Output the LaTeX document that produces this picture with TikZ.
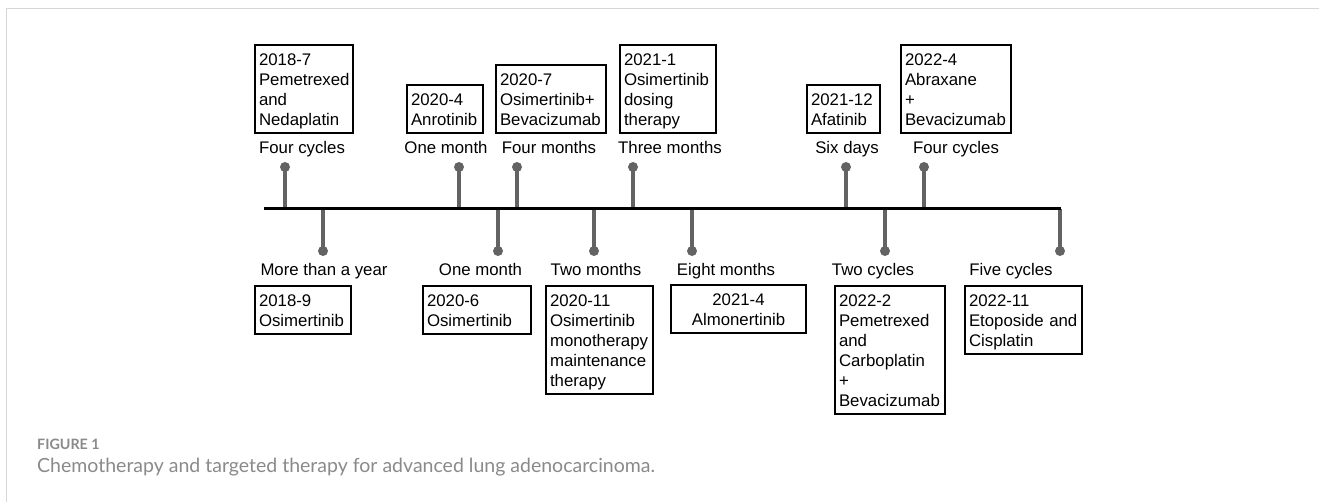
\documentclass[tikz,border=0pt]{standalone}
\usepackage{fontspec}
\setmainfont{Liberation Sans}
\newfontfamily\capfont{Lato}
\newcommand\fs{\fontsize{16.8pt}{20pt}\selectfont}
\newcommand\tp{\rule{0pt}{16.5pt}}
\newcommand\bt{\rule[-3.5pt]{0pt}{3.5pt}}
\definecolor{tickgray}{HTML}{636363}
\definecolor{framegray}{HTML}{D6D6D6}
\definecolor{capgray}{HTML}{8A8A8A}
\tikzset{
  tickline/.style={draw=tickgray, line width=3.5pt},
  dotnode/.style={circle, fill=tickgray, inner sep=0pt, minimum size=10pt},
  lbl/.style={font=\fs, anchor=base, inner sep=0pt},
  evbox/.style={draw, line width=2pt, inner xsep=4pt, inner ysep=4pt, font=\fs, align=left},
  upbox/.style={evbox, anchor=south west},
  lowbox/.style={evbox, anchor=north west},
}
\begin{document}
\begin{tikzpicture}[x=1pt,y=-1pt]
\useasboundingbox (0,0) rectangle (1319,502);
% frame
\coordinate (fA) at (6,502);
\coordinate (fB) at (6,9);
\coordinate (fC) at (1319,9);
\draw[framegray, line width=1pt] (fA) -- (fB) -- (fC);

% axis coordinates
\coordinate (axL) at (264,209);
\coordinate (axR) at (1061,209);

% upper events
\coordinate (u1) at (285,209); \node[dotnode] (du1) at (285,167) {};
\coordinate (u2) at (459,209); \node[dotnode] (du2) at (459,167) {};
\coordinate (u3) at (517,209); \node[dotnode] (du3) at (517,167) {};
\coordinate (u4) at (633,209); \node[dotnode] (du4) at (633,167) {};
\coordinate (u5) at (846,209); \node[dotnode] (du5) at (846,167) {};
\coordinate (u6) at (924,209); \node[dotnode] (du6) at (924,167) {};
% lower events
\coordinate (w1) at (323,209); \node[dotnode] (dw1) at (323,251) {};
\coordinate (w2) at (498,209); \node[dotnode] (dw2) at (498,251) {};
\coordinate (w3) at (594,209); \node[dotnode] (dw3) at (594,251) {};
\coordinate (w4) at (692,209); \node[dotnode] (dw4) at (692,251) {};
\coordinate (w5) at (885,209); \node[dotnode] (dw5) at (885,251) {};
\coordinate (w6) at (1060,209); \node[dotnode] (dw6) at (1060,251) {};

\foreach \i in {1,...,6} {
  \draw[tickline] (u\i) -- (du\i.center);
  \draw[tickline] (w\i) -- (dw\i.center);
}
\draw[line width=3pt] (axL) -- (axR);

% upper labels
\node[lbl] (lu1) at (302,154) {Four cycles};
\node[lbl] (lu2) at (446,154) {One month};
\node[lbl] (lu3) at (549,154) {Four months};
\node[lbl] (lu4) at (670,154) {Three months};
\node[lbl] (lu5) at (847,154) {Six days};
\node[lbl] (lu6) at (956,154) {Four cycles};

% lower labels
\node[lbl] (lw1) at (324,276) {More than a year};
\node[lbl] (lw2) at (480.5,276) {One month};
\node[lbl] (lw3) at (596,276) {Two months};
\node[lbl] (lw4) at (726,276) {Eight months};
\node[lbl] (lw5) at (873,276) {Two cycles};
\node[lbl] (lw6) at (1011,276) {Five cycles};

% upper boxes
\node[upbox, text width=90pt] (bu1) at (254,134) {\tp 2018-7\\Pemetrexed\\and\\Nedaplatin\bt};
\node[upbox, text width=68pt] (bu2) at (406,134) {\tp 2020-4\\Anrotinib\bt};
\node[upbox, text width=102pt] (bu3) at (495,134) {\tp 2020-7\\Osimertinib+\\Bevacizumab\bt};
\node[upbox, text width=88pt] (bu4) at (619,134) {\tp 2021-1\\Osimertinib\\dosing\\therapy\bt};
\node[upbox, text width=65pt] (bu5) at (806,134) {\tp 2021-12\\Afatinib\bt};
\node[upbox, text width=102pt] (bu6) at (900,134) {\tp 2022-4\\Abraxane\\+\\Bevacizumab\bt};

% lower boxes
\node[lowbox, text width=88pt] (bw1) at (254,285) {\tp 2018-9\\Osimertinib\bt};
\node[lowbox, text width=100pt] (bw2) at (422,285) {\tp 2020-6\\Osimertinib\bt};
\node[lowbox, text width=99pt] (bw3) at (545,285) {\tp 2020-11\\Osimertinib\\monotherapy\\maintenance\\therapy\bt};
\node[lowbox, text width=127pt, align=center] (bw4) at (670,284) {\tp 2021-4\\Almonertinib\bt};
\node[lowbox, text width=102pt] (bw5) at (834,285) {\tp 2022-2\\Pemetrexed\\and\\Carboplatin\\+\\Bevacizumab\bt};
\node[lowbox, text width=109pt] (bw6) at (964,285) {\tp 2022-11\\Etoposide and\\Cisplatin\bt};

% caption
\node[anchor=base west, inner sep=0pt, text=capgray, font=\capfont\bfseries\fontsize{14.3pt}{16pt}\selectfont] (fig) at (37,449) {FIGURE 1};
\node[anchor=base west, inner sep=0pt, text=capgray, font=\capfont\fontsize{19.5pt}{22pt}\selectfont] (cap) at (37,472) {Chemotherapy and targeted therapy for advanced lung adenocarcinoma.};
\end{tikzpicture}
\end{document}
